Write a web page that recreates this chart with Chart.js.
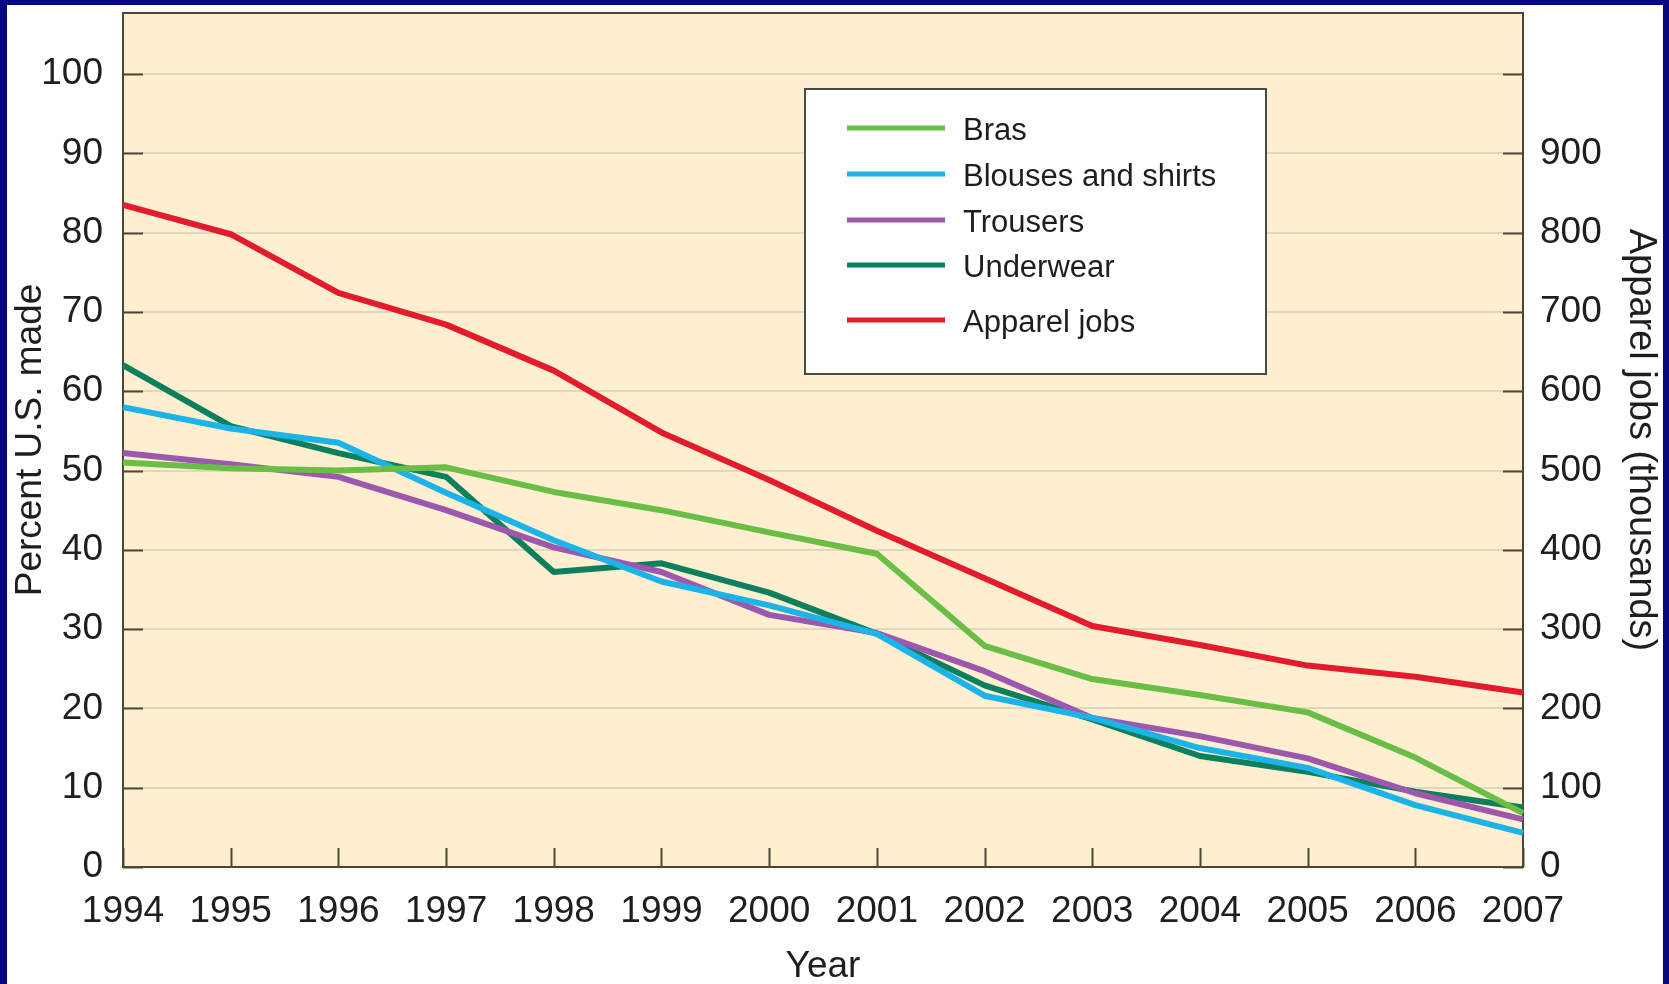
<!DOCTYPE html>
<html>
<head>
<meta charset="utf-8">
<title>Percent U.S. made and apparel jobs, 1994-2007</title>
<script src="https://cdn.jsdelivr.net/npm/chart.js@4.4.1/dist/chart.umd.min.js"></script>
<style>
  html, body { margin: 0; padding: 0; background: #ffffff; }
  canvas { display: block; }
</style>
</head>
<body>
<canvas id="chart" width="1669" height="984"></canvas>
<script>
const years = ['1994', '1995', '1996', '1997', '1998', '1999', '2000',
  '2001', '2002', '2003', '2004', '2005', '2006', '2007'];

// percent U.S. made
const bras = [51.0, 50.3, 50.0, 50.4, 47.3, 45.0, 42.2, 39.5, 27.9, 23.7, 21.7, 19.5, 13.8, 6.8];
const blouses = [58.0, 55.3, 53.5, 47.2, 41.2, 36.0, 33.0, 29.4, 21.6, 18.8, 15.0, 12.5, 7.8, 4.3];
const trousers = [52.2, 50.8, 49.2, 45.0, 40.3, 37.2, 31.8, 29.5, 24.7, 18.8, 16.5, 13.7, 9.3, 6.0];
const underwear = [63.3, 55.6, 52.2, 49.2, 37.2, 38.3, 34.6, 29.4, 22.9, 18.6, 14.0, 12.0, 9.5, 7.5];

// apparel jobs, thousands
const apparelJobs = [835, 798, 724, 684, 626, 548, 488, 424, 364, 304, 280, 254, 240, 220];

const leftTicks = [0, 10, 20, 30, 40, 50, 60, 70, 80, 90, 100];
const rightTicks = [0, 100, 200, 300, 400, 500, 600, 700, 800, 900];

const FONT = '"Liberation Sans", Arial, Helvetica, sans-serif';
const TEXT = '#1e1e1e';
const FRAME = '#07077c';
const PLOT_BG = '#feefd1';
const GRID = '#e2d6bc';
const AXIS = '#4e4636';

// blue frame, cream plot area, inward tick marks and the boxed legend
const decorations = {
  id: 'decorations',
  beforeDraw(chart) {
    const ctx = chart.ctx;
    const a = chart.chartArea;
    ctx.save();
    ctx.fillStyle = FRAME;
    ctx.fillRect(0, 0, chart.width, chart.height);
    ctx.fillStyle = '#ffffff';
    ctx.fillRect(7, 5, chart.width - 13, chart.height - 5);
    ctx.fillStyle = PLOT_BG;
    ctx.fillRect(a.left, a.top, a.right - a.left, a.bottom - a.top);
    ctx.restore();
  },
  beforeDatasetsDraw(chart) {
    const ctx = chart.ctx;
    const a = chart.chartArea;
    const s = chart.scales;
    ctx.save();
    ctx.strokeStyle = AXIS;
    ctx.lineWidth = 2;
    ctx.beginPath();
    s.y.ticks.forEach(t => {
      const py = Math.round(s.y.getPixelForValue(t.value)) + 0.5;
      ctx.moveTo(a.left, py);
      ctx.lineTo(a.left + 20, py);
    });
    s.y2.ticks.forEach(t => {
      const py = Math.round(s.y2.getPixelForValue(t.value)) + 0.5;
      ctx.moveTo(a.right - 20, py);
      ctx.lineTo(a.right, py);
    });
    s.x.ticks.forEach((t, i) => {
      const px = Math.round(s.x.getPixelForValue(i)) + 0.5;
      ctx.moveTo(px, a.bottom);
      ctx.lineTo(px, a.bottom - 19);
    });
    ctx.stroke();
    ctx.lineWidth = 2;
    ctx.strokeRect(a.left, a.top, a.right - a.left, a.bottom - a.top);
    ctx.restore();
  },
  afterDraw(chart) {
    const ctx = chart.ctx;
    const a = chart.chartArea;
    const bx = a.left + 682, by = a.top + 76, bw = 461, bh = 285;
    const rows = [39, 85, 131, 176, 231];
    ctx.save();
    ctx.fillStyle = '#ffffff';
    ctx.fillRect(bx, by, bw, bh);
    ctx.strokeStyle = '#4a4a44';
    ctx.lineWidth = 2;
    ctx.strokeRect(bx, by, bw, bh);
    ctx.font = '31px ' + FONT;
    ctx.textBaseline = 'middle';
    ctx.fillStyle = TEXT;
    chart.data.datasets.forEach((ds, i) => {
      const yy = by + rows[i];
      ctx.strokeStyle = ds.borderColor;
      ctx.lineWidth = 5;
      ctx.beginPath();
      ctx.moveTo(bx + 42, yy);
      ctx.lineTo(bx + 140, yy);
      ctx.stroke();
      ctx.fillText(ds.label, bx + 158, yy + 3);
    });
    ctx.restore();
  }
};

function line(label, data, color, axis) {
  return {
    label: label,
    data: data,
    yAxisID: axis,
    borderColor: color,
    backgroundColor: color,
    borderWidth: 6,
    pointRadius: 0,
    tension: 0,
    fill: false,
    borderJoinStyle: 'round'
  };
}

function noPad(scale) {
  scale.paddingTop = 0;
  scale.paddingBottom = 0;
  scale.paddingLeft = 0;
  scale.paddingRight = 0;
}

const ctx = document.getElementById('chart').getContext('2d');
const chart = new Chart(ctx, {
  type: 'line',
  data: {
    labels: years,
    datasets: [
      line('Bras', bras, '#6abd45', 'y'),
      line('Blouses and shirts', blouses, '#1cb4e8', 'y'),
      line('Trousers', trousers, '#9d58ae', 'y'),
      line('Underwear', underwear, '#0d7f5c', 'y'),
      line('Apparel jobs', apparelJobs, '#e31b2c', 'y2')
    ]
  },
  options: {
    responsive: false,
    animation: false,
    devicePixelRatio: 1,
    layout: { padding: { top: 13, left: 0, right: 0, bottom: 0 } },
    plugins: {
      legend: { display: false },
      tooltip: { enabled: false }
    },
    scales: {
      x: {
        type: 'category',
        offset: false,
        afterFit(scale) { scale.height = 117; noPad(scale); },
        grid: { display: false, drawTicks: false },
        border: { display: false },
        ticks: {
          color: TEXT,
          padding: 23,
          maxRotation: 0,
          autoSkip: false,
          font: { family: FONT, size: 37 }
        },
        title: {
          display: true,
          text: 'Year',
          color: TEXT,
          font: { family: FONT, size: 37, lineHeight: 0.9 },
          padding: { top: 0, bottom: 0.5 }
        }
      },
      y: {
        type: 'linear',
        position: 'left',
        min: 0,
        max: 107.7,
        afterFit(scale) { scale.width = 123; noPad(scale); },
        afterBuildTicks(scale) { scale.ticks = leftTicks.map(v => ({ value: v })); },
        grid: {
          drawTicks: false,
          lineWidth: 2,
          color: c => (c.tick && c.tick.value === 0 ? 'rgba(0,0,0,0)' : GRID)
        },
        border: { display: false },
        ticks: {
          color: TEXT,
          padding: 20,
          font: { family: FONT, size: 37 }
        },
        title: {
          display: true,
          text: 'Percent U.S. made',
          color: TEXT,
          font: { family: FONT, size: 37, lineHeight: 1.2 },
          padding: { top: 9, bottom: 0 }
        }
      },
      y2: {
        type: 'linear',
        position: 'right',
        min: 0,
        max: 1077,
        afterFit(scale) { scale.width = 146; noPad(scale); },
        afterBuildTicks(scale) { scale.ticks = rightTicks.concat([1000]).map(v => ({ value: v })); },
        grid: { drawOnChartArea: false, drawTicks: false },
        border: { display: false },
        ticks: {
          color: TEXT,
          padding: 17,
          font: { family: FONT, size: 37 },
          callback: v => (rightTicks.includes(v) ? String(v) : '')
        },
        title: {
          display: true,
          text: 'Apparel jobs (thousands)',
          color: TEXT,
          font: { family: FONT, size: 38, lineHeight: 1.2 },
          padding: { top: 6, bottom: 0 }
        }
      }
    }
  },
  plugins: [decorations]
});
</script>
</body>
</html>
